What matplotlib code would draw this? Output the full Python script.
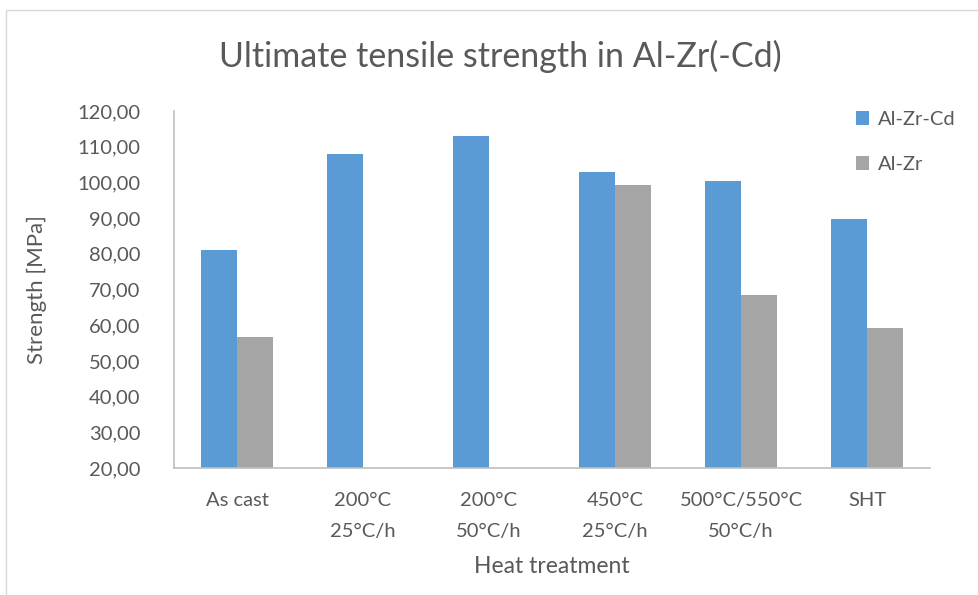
import matplotlib
matplotlib.use("Agg")
import matplotlib.pyplot as plt
import numpy as np
from matplotlib.patches import Rectangle
from matplotlib.ticker import FuncFormatter

plt.rcParams['font.family'] = ['Lato', 'DejaVu Sans']

# data
categories = ["As cast", "200°C\n25°C/h", "200°C\n50°C/h", "450°C\n25°C/h",
              "500°C/550°C\n50°C/h", "SHT"]
al_zr_cd = [81.0, 108.1, 113.1, 102.9, 100.5, 89.7]
al_zr = [56.6, np.nan, np.nan, 99.4, 68.4, 59.3]
series_names = ["Al-Zr-Cd", "Al-Zr"]
y_ticks = np.arange(20, 121, 10)

text_col = "#595959"
axis_col = "#BFBFBF"

fig = plt.figure(figsize=(9.79, 5.95), dpi=100)
ax = fig.add_axes([0.1777, 0.2134, 0.9499 - 0.1777, 0.8134 - 0.2134])

# outer chart frame
fig.patches.append(Rectangle((6 / 979, -0.01), 1.0, (585 / 595) + 0.01,
                             transform=fig.transFigure, fill=False,
                             edgecolor="#D9D9D9", linewidth=1.0))

x = np.arange(len(categories))
w = 0.286
ax.bar(x - w / 2, al_zr_cd, w, color="#5B9BD5", label=series_names[0], zorder=2)
ax.bar(x + w / 2, al_zr, w, color="#A5A5A5", label=series_names[1], zorder=2)

ax.set_xlim(-0.5, len(categories) - 0.5)
ax.set_ylim(20, 120)
ax.set_yticks(y_ticks)
ax.yaxis.set_major_formatter(FuncFormatter(lambda v, p: f"{v:.2f}".replace(".", ",")))
ax.set_xticks(x)
ax.set_xticklabels(categories, linespacing=2.0)
ax.tick_params(axis="both", length=0, labelsize=14.5, colors=text_col)
ax.tick_params(axis="x", pad=17)
ax.tick_params(axis="y", pad=24)

for s in ["top", "right"]:
    ax.spines[s].set_visible(False)
for s in ["left", "bottom"]:
    ax.spines[s].set_color(axis_col)
    ax.spines[s].set_linewidth(1.2)

ax.set_ylabel("Strength [MPa]", fontsize=16, color=text_col, labelpad=22)
ax.set_xlabel("Heat treatment", fontsize=16.5, color=text_col, labelpad=12)
fig.text(500 / 979, 0.905, "Ultimate tensile strength in Al-Zr(-Cd)", ha="center",
         va="center", fontsize=24.5, color=text_col)

leg = ax.legend(loc="upper left", bbox_to_anchor=(848 / 979, 1 - 103 / 595),
                bbox_transform=fig.transFigure, frameon=False, fontsize=14.5,
                handlelength=0.65, handleheight=0.65, handletextpad=0.45,
                labelspacing=1.4, borderaxespad=0)
for t in leg.get_texts():
    t.set_color(text_col)

fig.savefig("out.png", dpi=100)
